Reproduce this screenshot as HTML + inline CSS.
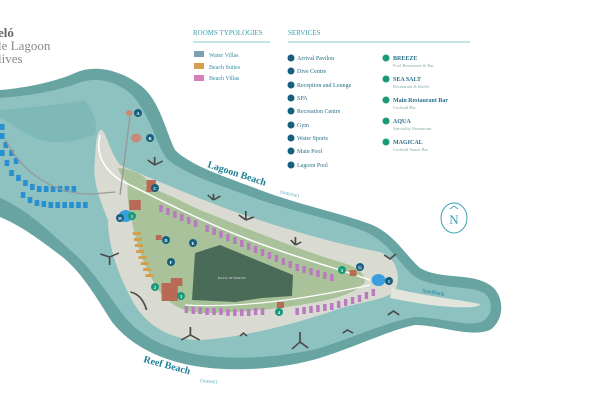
<!DOCTYPE html>
<html><head><meta charset="utf-8"><style>
html,body{margin:0;padding:0;background:#fff}
body{width:600px;height:400px;overflow:hidden;position:relative;font-family:"Liberation Serif",serif}
svg{position:absolute;left:0;top:0}
</style></head><body>
<svg width="600" height="400" viewBox="0 0 600 400" font-family="Liberation Serif, serif">
<path d="M0,90 C25,88 55,82 75,73 C95,64 120,70 140,85 C160,100 165,130 175,150 C190,165 220,175 260,190 C300,205 340,213 370,224 C395,234 405,255 420,268 C440,280 470,272 490,285 C505,295 505,320 490,330 C470,338 440,325 415,325 C390,330 360,345 320,358 C280,370 230,372 195,366 C160,360 130,345 112,322 C95,295 80,270 60,255 C40,240 20,225 0,217 Z" fill="#67a4a2"/>
<path d="M0,98 C25,96 55,92 78,83 C98,76 118,82 132,95 C150,115 155,140 166,158 C185,175 220,185 260,200 C300,213 340,221 366,232 C388,242 398,262 414,276 C435,290 470,285 484,293 C494,300 493,317 481,322 C465,327 440,317 415,317 C390,321 360,335 320,348 C280,358 235,360 200,355 C165,349 140,336 124,316 C108,295 92,268 70,250 C50,232 25,208 0,198 Z" fill="#8ec2c1"/>
<path d="M0,110 C30,108 60,104 85,100 C95,115 98,125 95,135 C80,140 60,145 40,140 C25,135 10,122 0,118 Z" fill="#7fb9b7"/>
<path d="M100,130 C106,128 108,150 120,165 C150,178 190,195 230,210 C280,228 340,245 380,252 C398,258 402,280 394,292 C380,302 355,302 330,312 C290,325 240,338 200,340 C170,340 145,325 132,300 C118,275 108,245 108,220 C100,200 92,180 95,160 C96,145 96,135 100,130 Z" fill="#d9dbd2"/>
<path d="M392,288 C420,295 460,300 480,304 C480,308 460,308 440,306 C420,304 400,300 390,298 Z" fill="#e3e4dc"/>
<path d="M128,182 C150,185 175,198 200,210 C250,230 300,250 340,262 C355,266 365,272 365,282 C355,295 330,300 300,305 C270,310 240,312 210,313 C185,314 170,305 160,292 C148,275 140,255 135,235 C130,215 126,198 128,182 Z" fill="#a9c29a"/>
<path d="M118,168 C130,168 145,175 152,185 L130,185 C124,180 120,175 118,168 Z" fill="#a9c29a"/>
<path d="M195,253 L220,245 L293,275 L292,296 L262,298 L235,302 L192,300 Z" fill="#4a6b58"/>
<path d="M100,135 C95,155 105,170 120,180 C160,200 200,220 240,236 C290,256 330,266 370,280" stroke="#fff" stroke-width="1.5" fill="none"/>
<path d="M185,305 C240,308 300,300 370,285" stroke="#fff" stroke-width="1.2" fill="none"/>
<g transform="scale(1.154,1)">
<g fill="#2a8fd0">
<rect x="0" y="124" width="4" height="6"/><rect x="0" y="133" width="4" height="6"/><rect x="3" y="142" width="4" height="6"/><rect x="8" y="150" width="4" height="6"/><rect x="12" y="158" width="4" height="6"/><rect x="0" y="150" width="4" height="6"/><rect x="4" y="160" width="4" height="6"/>
<rect x="8" y="170" width="4" height="6"/><rect x="14" y="175" width="4" height="6"/><rect x="20" y="180" width="4" height="6"/><rect x="26" y="184" width="4" height="6"/><rect x="32" y="186" width="4" height="6"/><rect x="38" y="186" width="4" height="6"/><rect x="44" y="186" width="4" height="6"/><rect x="50" y="186" width="4" height="6"/><rect x="56" y="186" width="4" height="6"/><rect x="62" y="186" width="4" height="6"/>
<rect x="18" y="192" width="4" height="6"/><rect x="24" y="197" width="4" height="6"/><rect x="30" y="200" width="4" height="6"/><rect x="36" y="201" width="4" height="6"/><rect x="42" y="202" width="4" height="6"/><rect x="48" y="202" width="4" height="6"/><rect x="54" y="202" width="4" height="6"/><rect x="60" y="202" width="4" height="6"/><rect x="66" y="202" width="4" height="6"/><rect x="72" y="202" width="4" height="6"/>
</g>
<path d="M5,140 C20,175 50,195 80,194 L100,192" stroke="#999" stroke-width="1.2" fill="none"/>
<line x1="113" y1="113" x2="104" y2="195" stroke="#999" stroke-width="1.2"/>
<circle cx="112" cy="113" r="3" fill="#c98a78"/><circle cx="118" cy="138" r="4.5" fill="#c98a78"/>
<g fill="#b97ac0">
<rect x="138" y="205" width="3" height="7"/><rect x="144" y="208" width="3" height="7"/><rect x="150" y="211" width="3" height="7"/><rect x="156" y="214" width="3" height="7"/><rect x="162" y="217" width="3" height="7"/><rect x="168" y="220" width="3" height="7"/>
<rect x="178" y="225" width="3" height="7"/><rect x="184" y="228" width="3" height="7"/><rect x="190" y="231" width="3" height="7"/><rect x="196" y="234" width="3" height="7"/><rect x="202" y="237" width="3" height="7"/><rect x="208" y="240" width="3" height="7"/><rect x="214" y="243" width="3" height="7"/><rect x="220" y="246" width="3" height="7"/><rect x="226" y="249" width="3" height="7"/><rect x="232" y="252" width="3" height="7"/><rect x="238" y="255" width="3" height="7"/><rect x="244" y="258" width="3" height="7"/><rect x="250" y="261" width="3" height="7"/><rect x="256" y="264" width="3" height="7"/><rect x="262" y="266" width="3" height="7"/><rect x="268" y="268" width="3" height="7"/><rect x="274" y="270" width="3" height="7"/><rect x="280" y="272" width="3" height="7"/><rect x="286" y="274" width="3" height="7"/>
<rect x="160" y="306" width="3" height="7"/><rect x="166" y="307" width="3" height="7"/><rect x="172" y="307" width="3" height="7"/><rect x="178" y="308" width="3" height="7"/><rect x="184" y="308" width="3" height="7"/><rect x="190" y="308" width="3" height="7"/><rect x="196" y="309" width="3" height="7"/><rect x="202" y="309" width="3" height="7"/><rect x="208" y="309" width="3" height="7"/><rect x="214" y="309" width="3" height="7"/><rect x="220" y="308" width="3" height="7"/><rect x="226" y="308" width="3" height="7"/>
<rect x="256" y="308" width="3" height="7"/><rect x="262" y="307" width="3" height="7"/><rect x="268" y="306" width="3" height="7"/><rect x="274" y="305" width="3" height="7"/><rect x="280" y="304" width="3" height="7"/><rect x="286" y="303" width="3" height="7"/><rect x="292" y="301" width="3" height="7"/><rect x="298" y="299" width="3" height="7"/><rect x="304" y="297" width="3" height="7"/><rect x="310" y="295" width="3" height="7"/><rect x="316" y="292" width="3" height="7"/><rect x="322" y="289" width="3" height="7"/>
</g>
<g fill="#d4a04e"><rect x="115" y="232" width="7" height="3"/><rect x="116" y="238" width="7" height="3"/><rect x="117" y="244" width="7" height="3"/><rect x="118" y="250" width="7" height="3"/><rect x="120" y="256" width="7" height="3"/><rect x="122" y="262" width="7" height="3"/><rect x="124" y="268" width="7" height="3"/><rect x="126" y="274" width="7" height="3"/></g>
<g fill="#b86a55"><rect x="127" y="180" width="8" height="12"/><rect x="112" y="200" width="10" height="10"/><rect x="140" y="283" width="14" height="18"/><rect x="148" y="278" width="10" height="8"/><rect x="240" y="302" width="6" height="6"/><rect x="303" y="270" width="6" height="6"/><rect x="135" y="235" width="5" height="5"/></g>
<circle cx="109" cy="216" r="6" fill="#3a9fdc"/><circle cx="328" cy="280" r="6" fill="#3a9fdc"/>
<g stroke="#4a4a4a" stroke-width="1.5" fill="none">
<path d="M134,165 l0,-8 m0,8 l-6,-5 m6,5 l7,-4"/><path d="M185,200 l0,-6 m0,6 l-5,-5 m5,5 l6,-4"/><path d="M213,220 l0,-9 m0,9 l-6,-5 m6,5 l7,-3"/><path d="M256,245 l0,-8 m0,8 l-4,-5 m4,5 l5,-3"/><path d="M333,255 l5,4 l5,-5"/><path d="M95,257 l-8,-3 m8,3 l0,8 m0,-8 l8,-4"/><path d="M113,292 c8,2 12,10 14,18"/><path d="M165,335 l-8,5 m8,-5 l0,-8 m0,8 l8,5"/><path d="M260,342 l-7,7 m7,-7 l0,-10 m0,10 l7,6"/><path d="M336,315 l5,-4 l5,4"/><path d="M297,333 l4,-3 l5,3"/><path d="M208,336 l3,-3 l3,3"/></g>
</g>
<text x="-2" y="37" font-size="13" fill="#666" font-weight="bold">eló</text>
<text x="-2" y="50" font-size="13" fill="#888">le Lagoon</text>
<text x="-2" y="63" font-size="13" fill="#888">lives</text>
<text x="193" y="35" font-size="7" fill="#3a9fb0">ROOMS TYPOLOGIES</text>
<line x1="193" y1="42" x2="270" y2="42" stroke="#8cc5d0" stroke-width="1"/>
<text x="288" y="35" font-size="7" fill="#3a9fb0">SERVICES</text>
<line x1="288" y1="42" x2="470" y2="42" stroke="#8cc5d0" stroke-width="1"/>
<rect x="194" y="51" width="10" height="6" fill="#7e9fb0"/><text x="209" y="57" font-size="6" fill="#2f8fa3">Water Villas</text>
<rect x="194" y="63" width="10" height="6" fill="#d4a04e"/><text x="209" y="69" font-size="6" fill="#2f8fa3">Beach Suites</text>
<rect x="194" y="75" width="10" height="6" fill="#d77fb8"/><text x="209" y="80" font-size="6" fill="#2f8fa3">Beach Villas</text>
<g font-size="6" fill="#2a6e88">
<g fill="#15607e"><circle cx="291" cy="58" r="3.5"/><circle cx="291" cy="71" r="3.5"/><circle cx="291" cy="85" r="3.5"/><circle cx="291" cy="98" r="3.5"/><circle cx="291" cy="111" r="3.5"/><circle cx="291" cy="125" r="3.5"/><circle cx="291" cy="138" r="3.5"/><circle cx="291" cy="151" r="3.5"/><circle cx="291" cy="165" r="3.5"/></g>
<text x="297" y="60">Arrival Pavilon</text><text x="297" y="73">Dive Centre</text><text x="297" y="87">Reception and Lounge</text><text x="297" y="100">SPA</text><text x="297" y="113">Recreation Centre</text><text x="297" y="127">Gym</text><text x="297" y="140">Water Sports</text><text x="297" y="153">Main Pool</text><text x="297" y="167">Lagoon Pool</text>
<g fill="#1a9a78"><circle cx="386" cy="58" r="3.5"/><circle cx="386" cy="79" r="3.5"/><circle cx="386" cy="100" r="3.5"/><circle cx="386" cy="121" r="3.5"/><circle cx="386" cy="142" r="3.5"/></g>
<g font-weight="bold" fill="#2a6e88"><text x="393" y="60">BREEZE</text><text x="393" y="81">SEA SALT</text><text x="393" y="102">Main Restaurant Bar</text><text x="393" y="123">AQUA</text><text x="393" y="144">MAGICAL</text></g>
<g font-size="4.5" fill="#8aa"><text x="393" y="67">Pool Restaurant &amp; Bar</text><text x="393" y="88">Restaurant &amp; Buffet</text><text x="393" y="109">Cocktail Bar</text><text x="393" y="130">Speciality Restaurant</text><text x="393" y="151">Cocktail Snack Bar</text></g>
</g>
<text x="218" y="279" font-size="3.5" fill="#dde">BACK OF HOUSE</text>
<g font-size="4.5" fill="#fff" text-anchor="middle" font-weight="bold">
<g fill="#15607e"><circle cx="138" cy="113" r="4"/><circle cx="150" cy="138" r="4"/><circle cx="155" cy="188" r="4"/><circle cx="166" cy="240" r="4"/><circle cx="193" cy="243" r="4"/><circle cx="171" cy="262" r="4"/><circle cx="360" cy="267" r="4"/><circle cx="120" cy="218" r="4"/><circle cx="389" cy="281" r="4"/></g>
<g fill="#1a9a78"><circle cx="132" cy="216" r="4"/><circle cx="155" cy="287" r="4"/><circle cx="181" cy="296" r="4"/><circle cx="279" cy="312" r="4"/><circle cx="342" cy="270" r="4"/></g>
<text x="138" y="115">A</text><text x="150" y="140">B</text><text x="155" y="190">C</text><text x="166" y="242">D</text><text x="193" y="245">E</text><text x="171" y="264">F</text><text x="360" y="269">G</text><text x="120" y="220">H</text><text x="389" y="283">I</text>
<text x="132" y="218">1</text><text x="155" y="289">2</text><text x="181" y="298">3</text><text x="279" y="314">4</text><text x="342" y="272">5</text>
</g>
<text x="207" y="167" font-size="10" fill="#1f7f94" transform="rotate(18 207 167)" font-weight="bold">Lagoon Beach</text>
<text x="280" y="193" font-size="5.5" fill="#6aaabb" transform="rotate(14 280 193)">(sunrise)</text>
<text x="143" y="362" font-size="10" fill="#1f7f94" transform="rotate(15 143 362)" font-weight="bold">Reef Beach</text>
<text x="200" y="382" font-size="5.5" fill="#6aaabb" transform="rotate(5 200 382)">(sunset)</text>
<text x="422" y="292" font-size="5.5" fill="#1f7f94" transform="rotate(10 422 292)">SandBank</text>
<ellipse cx="454" cy="218" rx="13" ry="15" fill="#fff" stroke="#3a9fb0" stroke-width="1"/>
<text x="454" y="224" font-size="13" fill="#3a9fb0" text-anchor="middle">N</text>
<path d="M450,209 l4,-3 l4,3" stroke="#3a9fb0" fill="none" stroke-width="0.8"/>
</svg>
</body></html>
